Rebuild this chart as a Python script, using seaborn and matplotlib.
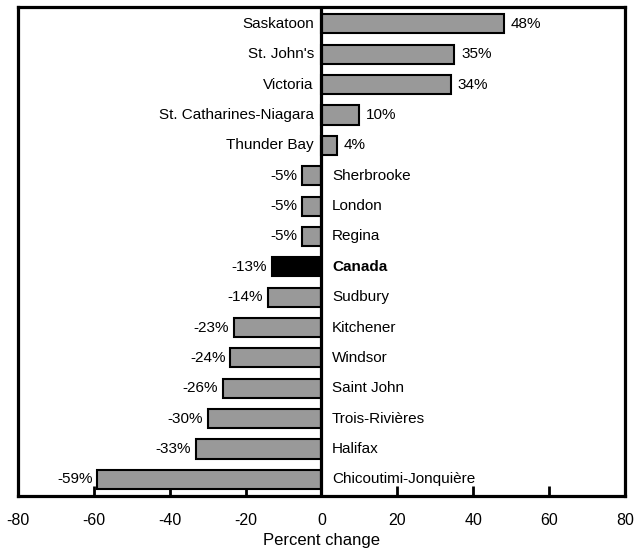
import matplotlib
matplotlib.use("Agg")
import matplotlib.pyplot as plt
import seaborn as sns
import pandas as pd

# Percent change by city (top to bottom as drawn)
cities = ["Saskatoon", "St. John's", "Victoria", "St. Catharines-Niagara",
          "Thunder Bay", "Sherbrooke", "London", "Regina", "Canada",
          "Sudbury", "Kitchener", "Windsor", "Saint John", "Trois-Rivières",
          "Halifax", "Chicoutimi-Jonquière"]
changes = [48, 35, 34, 10, 4, -5, -5, -5, -13, -14, -23, -24, -26, -30, -33, -59]
highlight = "Canada"

sns.set_theme(style="white")
plt.rcParams["font.family"] = ["Liberation Sans", "DejaVu Sans"]
plt.rcParams["text.color"] = "black"
plt.rcParams["axes.labelcolor"] = "black"
plt.rcParams["xtick.color"] = "black"

df = pd.DataFrame({"city": cities, "change": changes})
df["group"] = ["nat" if c == highlight else "cma" for c in cities]

fig = plt.figure(figsize=(6.34, 5.5), dpi=100)
ax = fig.add_axes([0.028, 0.098, 0.958, 0.889])

sns.barplot(data=df, x="change", y="city", hue="group", orient="h",
            palette={"cma": "#999999", "nat": "#000000"}, dodge=False,
            width=0.63, edgecolor="black", linewidth=1.5, legend=False, ax=ax)

# zero line
ax.axvline(0, color="black", lw=2.3, zorder=5)

# labels: city name on the opposite side of zero, value at bar end
fs = 11
for i, (c, v) in enumerate(zip(cities, changes)):
    weight = "bold" if c == highlight else "normal"
    if v >= 0:
        ax.text(-2.0, i, c, ha="right", va="center", fontsize=fs, fontweight=weight)
        ax.text(v + 1.8, i, f"{v}%", ha="left", va="center", fontsize=fs)
    else:
        ax.text(2.8, i, c, ha="left", va="center", fontsize=fs, fontweight=weight)
        ax.text(v - 1.3, i, f"{v}%", ha="right", va="center", fontsize=fs)

ax.set_xlim(-80, 80)
ax.set_ylim(len(cities) - 0.45, -0.55)
ax.set_xticks(range(-80, 81, 20))
ax.set_xticklabels([str(t) for t in range(-80, 81, 20)], fontsize=11.5)
ax.set_yticks([])
ax.set_ylabel("")
ax.set_xlabel("Percent change", fontsize=12, labelpad=4)
ax.tick_params(axis="x", direction="in", length=7, width=2, bottom=True, pad=12)

for s in ax.spines.values():
    s.set_visible(True)
    s.set_color("black")
    s.set_linewidth(2.3)

fig.savefig("out.png", dpi=100)
plt.close("all")
